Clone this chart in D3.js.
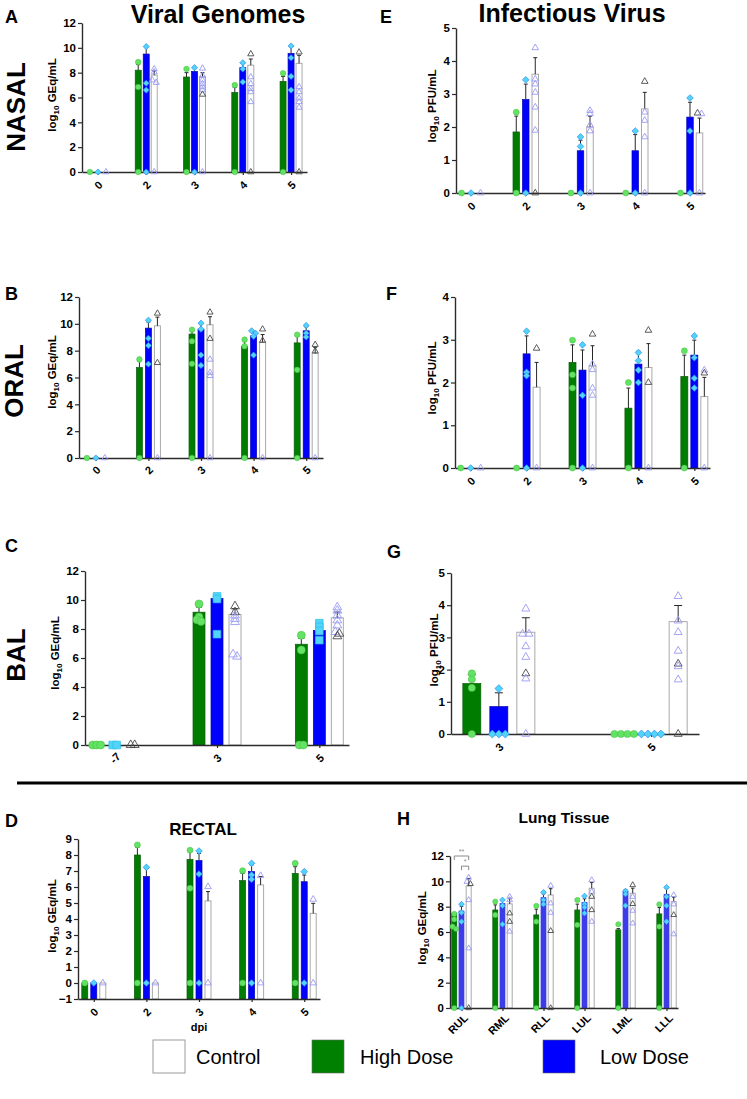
<!DOCTYPE html>
<html><head><meta charset="utf-8">
<script src="https://cdn.jsdelivr.net/npm/d3@7"></script>
<style>body{margin:0;background:#fff} svg{display:block} text{font-family:"Liberation Sans",Arial,Helvetica,sans-serif}</style>
</head><body>
<svg id="c" width="747" height="1099"></svg>
<script>
// ================= DATA =================
const dayCats = ["0","2","3","4","5"];
const balCats = ["-7","3","5"];
const balPfuCats = ["3","5"];
const lobeCats = ["RUL","RML","RLL","LUL","LML","LLL"];
const gemTicks = [0,2,4,6,8,10,12];
const pfu5Ticks = [0,1,2,3,4,5];
const pfu4Ticks = [0,1,2,3,4];
const rectalTicks = [-1,0,1,2,3,4,5,6,7,8,9];

// A: nasal viral genomes
const aHigh = [0, 8.2, 7.65, 6.4, 7.3];
const aHighSem = [0, 0.45, 0.35, 0.4, 0.4];
const aHighPts = [[0],[8.85,6.85,0],[8.3,0],[7.0,0],[7.95,0]];
const aLow = [0, 9.5, 8.1, 8.4, 9.55];
const aLowSem = [0, 0.6, 0.3, 0.35, 0.55];
const aLowPts = [[0],[10.1,7.15,6.6,0],[8.4,0],[8.8,8.3,7.25],[10.15,9.2,7.7,6.6]];
const aCtrl = [0, 7.8, 7.7, 8.6, 8.75];
const aCtrlSem = [0, 0.35, 0.3, 0.5, 0.65];
const aCtrlPts = [[0],[8.3,8.05,7.4,7.2,0],[8.35,7.75,7.4,7.1,6.85,6.6,0],[7.65,7.1,6.7,6.45,5.65],[6.85,6.45,5.95,5.65,5.2]];
const aCtrlDark = [[],[],[6.25],[9.5,0],[9.65,0]];

// E: nasal infectious virus
const eHigh = [0, 1.85, 0, 0, 0];
const eHighSem = [0, 0.48, 0, 0, 0];
const eHighPts = [[0],[2.45,0],[0],[0],[0]];
const eLow = [0, 2.83, 1.28, 1.28, 2.3];
const eLowSem = [0, 0.47, 0.32, 0.49, 0.45];
const eLowPts = [[0],[3.43,0],[1.7,1.41,0],[1.88,0],[2.88,1.88,0]];
const eCtrl = [0, 3.6, 2.0, 2.55, 1.82];
const eCtrlSem = [0, 0.5, 0.33, 0.5, 0.45];
const eCtrlPts = [[0],[4.4,3.45,3.3,3.05,2.6,1.9],[2.5,2.4,2.06,1.88,0],[2.45,2.2,1.7,0],[2.4,0]];
const eCtrlDark = [[],[0],[],[3.38],[2.42]];

// B: oral viral genomes
const bHigh = [0, 6.74, 9.24, 8.33, 8.58];
const bHighSem = [0, 0.5, 0.3, 0.45, 0.5];
const bHighPts = [[0],[7.35,0],[9.56,8.7,7.03,0],[8.82,8.33,0],[9.19,6.57,0]];
const bLow = [0, 9.68, 9.6, 9.1, 9.48];
const bLowSem = [0, 0.45, 0.4, 0.3, 0.3];
const bLowPts = [[0],[10.27,8.92,8.38,7.0],[10.05,9.6,7.67,6.9],[9.48,9.3,9.07,7.67],[9.88,9.3,9.02]];
const bCtrl = [0, 9.85, 9.93, 8.65, 7.8];
const bCtrlSem = [0, 0.65, 0.6, 0.55, 0.45];
const bCtrlPts = [[0],[0],[7.35,6.37,6.13,0],[0],[0]];
const bCtrlDark = [[],[10.78,7.1],[10.86,8.9],[9.6,8.75],[8.45,7.97]];

// F: oral infectious virus
const fHigh = [0, 0, 2.47, 1.4, 2.14];
const fHighSem = [0, 0, 0.41, 0.47, 0.5];
const fHighPts = [[0],[0],[2.99,2.18,1.87,0],[2.0,0],[2.74,0]];
const fLow = [0, 2.67, 2.29, 2.43, 2.64];
const fLowSem = [0, 0.42, 0.47, 0.3, 0.35];
const fLowPts = [[0],[3.2,2.24,2.16,0],[2.88,1.7,0],[2.7,2.51,2.29,2.0],[3.09,2.58,2.1,1.87]];
const fCtrl = [0, 1.89, 2.39, 2.35, 1.67];
const fCtrlSem = [0, 0.58, 0.47, 0.56, 0.45];
const fCtrlPts = [[0],[0],[2.43,2.3,1.87,1.7,0],[0],[2.29,0]];
const fCtrlDark = [[],[2.8],[3.13],[3.22,2.0],[2.22]];

// C: BAL viral genomes
const cHigh = [0, 9.16, 6.95];
const cHighSem = [0, 0.35, 0.4];
const cHighPts = [[0,0,0],[9.73,8.82,8.64,8.52],[7.57,6.55,0,0]];
const cLow = [0, 10.1, 7.9];
const cLowSem = [0, 0.2, 0.3];
const cLowPts = [[0,0],[10.25,10.07,7.64],[8.4,8.14,7.86,7.23]];
const cCtrl = [0, 9.0, 8.77];
const cCtrlSem = [0, 0.4, 0.4];
const cCtrlPts = [[],[8.93,8.7,8.48,6.25,6.1],[9.5,9.27,8.93,8.6,8.25,7.8]];
const cCtrlDark = [[0,0],[9.57,9.16],[7.68,7.5]];

// G: BAL infectious virus
const gHigh = [1.57, 0];
const gHighSem = [0.27, 0];
const gHighPts = [[1.88,1.7,1.43,0],[0,0,0,0]];
const gLow = [0.85, 0];
const gLowSem = [0.43, 0];
const gLowPts = [[1.41,0,0,0],[0,0,0,0]];
const gCtrl = [3.16, 3.49];
const gCtrlSem = [0.45, 0.5];
const gCtrlPts = [[3.89,3.11,3.11,2.72,2.39,1.72,0],[4.28,3.52,3.16,2.58,2.1,1.69]];
const gCtrlDark = [[1.88],[2.18,0]];

// D: rectal viral genomes
const dHigh = [0, 8.0, 7.73, 6.4, 6.85];
const dHighSem = [0, 0.48, 0.47, 0.45, 0.42];
const dHighPts = [[0],[8.63,0],[8.3,5.92,0],[7.02,0],[7.48,0]];
const dLow = [0, 6.65, 7.65, 6.96, 6.33];
const dLowSem = [0, 0.52, 0.45, 0.42, 0.42];
const dLowPts = [[0],[7.23,0],[8.25,6.81,0],[7.48,6.75,6.48,0],[6.96,0]];
const dCtrl = [0, 0, 5.13, 6.13, 4.35];
const dCtrlSem = [0, 0, 0.58, 0.52, 0.63];
const dCtrlPts = [[0],[0],[6.02,0],[6.71,0],[5.23,0]];
const dCtrlDark = [[],[],[],[],[]];

// H: lung tissue viral genomes
const hHigh = [7.48, 7.74, 7.35, 7.74, 6.17, 7.43];
const hHighSem = [0, 0.4, 0.45, 0.46, 0.1, 0.5];
const hHighPts = [[7.43,7.0,6.43,6.25,0],[8.4,7.35,0],[8.06,6.82,0],[8.53,6.56,0],[6.61,0],[8.19,6.43,0]];
const hLow = [7.66, 8.25, 8.71, 8.32, 9.19, 8.98];
const hLowSem = [0.35, 0.3, 0.3, 0.3, 0.15, 0.45];
const hLowPts = [[8.2,7.53,6.82,0],[8.53,8.08,6.61],[9.13,8.53,8.2],[8.84,8.2,7.95,7.48],[9.24,9.0,8.08],[9.53,8.79,8.08,6.82]];
const hCtrl = [9.63, 8.22, 8.92, 9.45, 9.06, 8.4];
const hCtrlSem = [0.6, 0.44, 0.5, 0.45, 0.4, 0.35];
const hCtrlPts = [[10.3,9.97,8.53,4.72],[8.79,8.53,6.04],[9.66,8.27,7.53],[10.1,9.19,6.82],[8.79,7.69,6.69],[8.92,8.19,5.83]];
const hCtrlDark = [[9.8,0],[7.48,6.82],[6.09,0],[8.79,7.74],[9.71,8.22],[7.35]];
const hSig = [{a:"high", b:"ctrl", y:12.0, label:"**"},{a:"low", b:"ctrl", y:11.2, label:"*"}];

const legendLabels = ["Control","High Dose","Low Dose"];

// ================= DRAW =================
const svg = d3.select("#c");
const C = {high:"#007c00", highS:"#0a5e0a", low:"#0000ff", lowS:"#0000b8",
  ctrlS:"#a9a9a9", gPt:"#64e264", gPtS:"#3fbf3f", bPt:"#52d3f7", bPtS:"#2d8ff2",
  tri:"#9a9af4", triDark:"#4a4a4a", axis:"#2b2b2b", err:"#262626"};

function clusterPlace(vals, y, cx, step, thr){
  const pts = vals.map(v=>({v, py:y(v)})).sort((a,b)=>a.py-b.py);
  const out=[]; let cl=[];
  const flush=()=>{ const n=cl.length; cl.forEach((p,i)=>{p.px=cx+(i-(n-1)/2)*step; out.push(p);}); cl=[]; };
  pts.forEach(p=>{ if(cl.length && Math.abs(p.py-cl[0].py)>thr) flush(); cl.push(p); });
  flush();
  return out;
}
const triPath = s => { const h=s*Math.sqrt(3)/2; return `M0,${-2*h/3}L${s/2},${h/3}L${-s/2},${h/3}Z`; };
const diaPath = h => `M0,${-h}L${h},0L0,${h}L${-h},0Z`;
const sqPath = h => `M${-h},${-h}H${h}V${h}H${-h}Z`;

function drawPanel(c){
  const g = svg.append("g");
  const y = d3.scaleLinear().domain(c.yDomain).range([c.bottom, c.top]);
  const x = d3.scalePoint().domain(c.cats).range([c.left, c.right]).padding(c.pad);
  const base = c.yDomain[0];
  const series = [
    {key:"high", mean:c.high, sem:c.highSem, dx:-c.off, fill:C.high, stroke:C.highS},
    {key:"low", mean:c.low, sem:c.lowSem, dx:0, fill:c.lowFill||C.low, stroke:c.lowFill||C.lowS},
    {key:"ctrl", mean:c.ctrl, sem:c.ctrlSem, dx:c.off, fill:"#fff", stroke:C.ctrlS}
  ];
  series.forEach(s=>{
    g.selectAll(null).data(c.cats.map((d,i)=>({d,i}))).join("rect")
      .filter(o=> y(base)-y(s.mean[o.i]) > 0.5)
      .attr("x", o=>x(o.d)+s.dx-c.barW/2).attr("width", c.barW)
      .attr("y", o=>y(s.mean[o.i])).attr("height", o=>y(base)-y(s.mean[o.i]))
      .attr("fill", s.fill).attr("stroke", s.stroke).attr("stroke-width", s.key==="ctrl"?1:0.7);
  });
  series.forEach(s=>{
    c.cats.forEach((d,i)=>{
      if(!s.sem[i]) return;
      const cx=x(d)+s.dx, y0=y(s.mean[i]), y1=y(s.mean[i]+s.sem[i]);
      g.append("line").attr("x1",cx).attr("x2",cx).attr("y1",y0).attr("y2",y1).attr("stroke",C.err).attr("stroke-width",1);
      g.append("line").attr("x1",cx-c.cap/2).attr("x2",cx+c.cap/2).attr("y1",y1).attr("y2",y1).attr("stroke",C.err).attr("stroke-width",1);
    });
  });
  // axes
  const ya = g.append("g").attr("transform",`translate(${c.left},0)`)
    .call(d3.axisLeft(y).tickValues(c.yTicks).tickSize(4).tickSizeOuter(0).tickPadding(2).tickFormat(d3.format("d")));
  ya.select(".domain").attr("stroke",C.axis).attr("stroke-width",1.4);
  ya.selectAll(".tick line").attr("stroke",C.axis).attr("stroke-width",1.2);
  ya.selectAll("text").attr("font-size",c.tickFont||11.5).attr("font-weight","bold").attr("fill","#000")
    .attr("font-family",'"Liberation Sans",Arial,sans-serif');
  const xa = g.append("g").attr("transform",`translate(0,${y(base)})`)
    .call(d3.axisBottom(x).tickSize(3).tickSizeOuter(0));
  xa.select(".domain").attr("stroke",C.axis).attr("stroke-width",1.4);
  xa.selectAll(".tick line").attr("stroke",C.axis).attr("stroke-width",1.2);
  const xt = xa.selectAll("text").attr("font-size",c.xFont||11).attr("font-weight","bold").attr("fill","#000")
    .attr("font-family",'"Liberation Sans",Arial,sans-serif').attr("y",0).attr("dy","0.35em");
  if(c.xAnchorEnd){
    xt.attr("text-anchor","end").attr("transform",`translate(4,${c.xLabDy}) rotate(-45)`);
  } else {
    xt.attr("text-anchor","middle").attr("transform",`translate(0,${c.xLabDy}) rotate(-45)`);
  }
  // points
  const ms = c.ms;
  c.cats.forEach((d,i)=>{
    const hp = clusterPlace(c.highPts[i], y, x(d)-c.off, c.step, 2.5);
    g.selectAll(null).data(hp).join("circle").attr("cx",p=>p.px).attr("cy",p=>p.py).attr("r",ms)
      .attr("fill",C.gPt).attr("stroke",C.gPtS).attr("stroke-width",0.5);
    const lp = clusterPlace(c.lowPts[i], y, x(d), c.step, 2.5);
    g.selectAll(null).data(lp).join("path").attr("transform",p=>`translate(${p.px},${p.py})`)
      .attr("d", c.lowShape==="square" ? sqPath(ms*0.95) : diaPath(ms*1.1))
      .attr("fill",C.bPt).attr("stroke",c.lowShape==="square"?"#2bc3ea":C.bPtS).attr("stroke-width",0.7);
    const cp = clusterPlace(c.ctrlPts[i].concat(c.ctrlDark[i]), y, x(d)+c.off, c.step, 2.5);
    const darkVals = c.ctrlDark[i].slice();
    cp.forEach(p=>{ p.dark=false; const k = darkVals.indexOf(p.v);
      if(k>=0 && !c.ctrlPts[i].includes(p.v)){p.dark=true; darkVals.splice(k,1);} });
    g.selectAll(null).data(cp).join("path").attr("transform",p=>`translate(${p.px},${p.py})`)
      .attr("d", triPath(ms*2.2)).attr("fill","none")
      .attr("stroke",p=>p.dark?C.triDark:C.tri).attr("stroke-width",0.9);
  });
  return {x,y,g};
}

function yLabel(xp, yp, unit, size){
  const t = svg.append("text").attr("transform",`translate(${xp},${yp}) rotate(-90)`)
    .attr("text-anchor","middle").attr("font-weight","bold").attr("font-size",size||11.5);
  t.append("tspan").text("log");
  t.append("tspan").text("10").attr("font-size",(size||11.5)*0.7).attr("dy",3);
  t.append("tspan").text(" "+unit).attr("dy",-3);
}
function txt(x,y,s,size,opts={}){
  const t = svg.append("text").attr("x",x).attr("y",y).text(s).attr("font-size",size)
    .attr("font-weight",opts.normal?"normal":"bold").attr("text-anchor",opts.anchor||"start");
  if(opts.rot) t.attr("transform",`rotate(${opts.rot},${x},${y})`);
  return t;
}

// Panel A
drawPanel({left:82,right:307,top:23,bottom:172,yDomain:[0,12],yTicks:gemTicks,cats:dayCats,pad:0.33,
  off:8,barW:6,cap:4,ms:2.8,step:4,xLabDy:13,
  high:aHigh,highSem:aHighSem,highPts:aHighPts,low:aLow,lowSem:aLowSem,lowPts:aLowPts,
  ctrl:aCtrl,ctrlSem:aCtrlSem,ctrlPts:aCtrlPts,ctrlDark:aCtrlDark});
// Panel E
drawPanel({left:456,right:705,top:28,bottom:193,yDomain:[0,5],yTicks:pfu5Ticks,cats:dayCats,pad:0.274,
  off:9.5,barW:6.5,cap:4,ms:3,step:4,xLabDy:13,
  high:eHigh,highSem:eHighSem,highPts:eHighPts,low:eLow,lowSem:eLowSem,lowPts:eLowPts,
  ctrl:eCtrl,ctrlSem:eCtrlSem,ctrlPts:eCtrlPts,ctrlDark:eCtrlDark});
// Panel B
drawPanel({left:79,right:323,top:297,bottom:458,yDomain:[0,12],yTicks:gemTicks,cats:dayCats,pad:0.32,
  off:9,barW:6,cap:4,ms:2.8,step:4,xLabDy:12,
  high:bHigh,highSem:bHighSem,highPts:bHighPts,low:bLow,lowSem:bLowSem,lowPts:bLowPts,
  ctrl:bCtrl,ctrlSem:bCtrlSem,ctrlPts:bCtrlPts,ctrlDark:bCtrlDark});
// Panel F
drawPanel({left:455,right:710,top:297,bottom:468,yDomain:[0,4],yTicks:pfu4Ticks,cats:dayCats,pad:0.28,
  off:10,barW:7,cap:4,ms:3,step:4,xLabDy:13,
  high:fHigh,highSem:fHighSem,highPts:fHighPts,low:fLow,lowSem:fLowSem,lowPts:fLowPts,
  ctrl:fCtrl,ctrlSem:fCtrlSem,ctrlPts:fCtrlPts,ctrlDark:fCtrlDark});
// Panel C
drawPanel({left:85,right:349,top:571,bottom:745,yDomain:[0,12],yTicks:gemTicks,cats:balCats,pad:0.29,
  off:18,barW:12,cap:6,ms:4,step:4,xLabDy:13,lowShape:"square",
  high:cHigh,highSem:cHighSem,highPts:cHighPts,low:cLow,lowSem:cLowSem,lowPts:cLowPts,
  ctrl:cCtrl,ctrlSem:cCtrlSem,ctrlPts:cCtrlPts,ctrlDark:cCtrlDark});
// Panel G
drawPanel({left:451,right:699,top:573,bottom:734,yDomain:[0,5],yTicks:pfu5Ticks,cats:balPfuCats,pad:0.314,
  off:27,barW:18,cap:8,ms:3.6,step:6.5,xLabDy:13,
  high:gHigh,highSem:gHighSem,highPts:gHighPts,low:gLow,lowSem:gLowSem,lowPts:gLowPts,
  ctrl:gCtrl,ctrlSem:gCtrlSem,ctrlPts:gCtrlPts,ctrlDark:gCtrlDark});
// Panel D
drawPanel({left:78,right:320,top:839,bottom:999,yDomain:[-1,9],yTicks:rectalTicks,cats:dayCats,pad:0.3,
  off:9,barW:6,cap:4,ms:3,step:4,xLabDy:13,
  high:dHigh,highSem:dHighSem,highPts:dHighPts,low:dLow,lowSem:dLowSem,lowPts:dLowPts,
  ctrl:dCtrl,ctrlSem:dCtrlSem,ctrlPts:dCtrlPts,ctrlDark:dCtrlDark});
// Panel H
const H = drawPanel({left:450,right:678,top:856,bottom:1008,yDomain:[0,12],yTicks:gemTicks,cats:lobeCats,pad:0.28,
  off:7.2,barW:5,cap:3.5,ms:2.6,step:3.5,xLabDy:8,xAnchorEnd:true,lowFill:"#3c3ce8",
  high:hHigh,highSem:hHighSem,highPts:hHighPts,low:hLow,lowSem:hLowSem,lowPts:hLowPts,
  ctrl:hCtrl,ctrlSem:hCtrlSem,ctrlPts:hCtrlPts,ctrlDark:hCtrlDark});
const hOff = {high:-7.2, low:0, ctrl:7.2};
hSig.forEach(s=>{
  const x0 = H.x(lobeCats[0])+hOff[s.a], x1 = H.x(lobeCats[0])+hOff[s.b], yy = H.y(s.y);
  H.g.append("path").attr("d",`M${x0},${yy+4}V${yy}H${x1}V${yy+4}`).attr("fill","none").attr("stroke","#8a8a8a").attr("stroke-width",1);
  H.g.append("text").attr("x",(x0+x1)/2).attr("y",yy-2).attr("text-anchor","middle").attr("font-size",7).attr("fill","#8a8a8a").text(s.label);
});

// y labels
yLabel(56,95,"GEq/mL");
yLabel(436,106,"PFU/mL");
yLabel(56,372,"GEq/mL");
yLabel(436,378,"PFU/mL");
yLabel(59,653,"GEq/mL");
yLabel(438,650,"PFU/mL");
yLabel(56,916,"GEq/mL");
yLabel(426,928,"GEq/mL");

// panel letters
[["A",5,23],["E",380,23],["B",5,300],["F",386,300],["C",5,552],["G",387,558],["D",5,827],["H",397,825]]
  .forEach(([s,x,y])=>txt(x,y,s,18));
// titles
txt(218,23,"Viral Genomes",25,{anchor:"middle"});
txt(572,22,"Infectious Virus",25,{anchor:"middle"});
txt(203,835,"RECTAL",17,{anchor:"middle"});
txt(564,823,"Lung Tissue",15.5,{anchor:"middle"});
// row labels
txt(25,107,"NASAL",26,{anchor:"middle",rot:-90});
txt(23,381,"ORAL",26,{anchor:"middle",rot:-90});
txt(25,655,"BAL",26,{anchor:"middle",rot:-90});
// dpi
txt(199,1031,"dpi",11,{anchor:"middle"});
// separator
svg.append("line").attr("x1",17).attr("x2",747).attr("y1",783).attr("y2",783).attr("stroke","#000").attr("stroke-width",3);

// legend
const legFills = ["#ffffff","#008000","#0000ff"];
const legBoxX = [153,312,543];
const legTextX = [196,360,600];
legendLabels.forEach((l,i)=>{
  svg.append("rect").attr("x",legBoxX[i]).attr("y",1040).attr("width",32).attr("height",33)
    .attr("fill",legFills[i]).attr("stroke",i===0?"#9a9a9a":"#666").attr("stroke-width",i===0?1:0.6);
  txt(legTextX[i],1064,l,20,{normal:true});
});
</script></body></html>
